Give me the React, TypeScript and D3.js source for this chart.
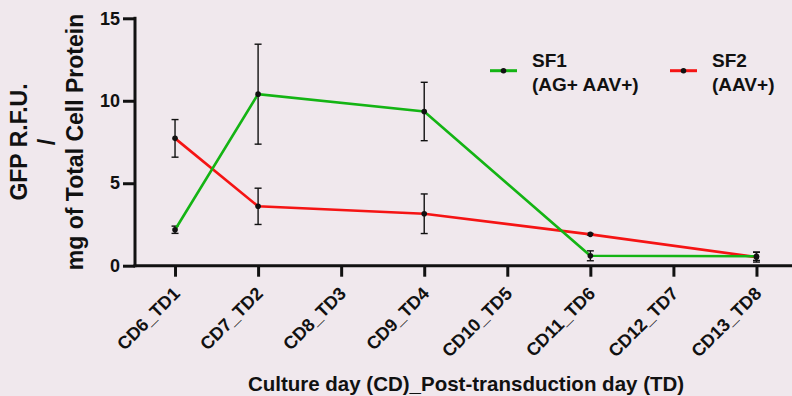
import React, { useEffect, useRef } from 'react';
import * as d3 from 'd3';

const categories = [
  'CD6_TD1', 'CD7_TD2', 'CD8_TD3', 'CD9_TD4',
  'CD10_TD5', 'CD11_TD6', 'CD12_TD7', 'CD13_TD8',
];
const sampledDays = ['CD6_TD1', 'CD7_TD2', 'CD9_TD4', 'CD11_TD6', 'CD13_TD8'];
const sf1Mean = [2.18, 10.4, 9.35, 0.6, 0.57];
const sf1Err = [0.22, 3.03, 1.77, 0.3, 0.25];
const sf2Mean = [7.72, 3.6, 3.15, 1.9, 0.52];
const sf2Err = [1.14, 1.1, 1.2, 0.05, 0.3];
const yTicks = [0, 5, 10, 15];

const WIDTH = 792;
const HEIGHT = 396;
const FONT = '"Liberation Sans", Arial, Helvetica, sans-serif';
const GREEN = '#14b414';
const RED = '#f51414';
const INK = '#111';

export default function App() {
  const ref = useRef<SVGSVGElement>(null);

  useEffect(() => {
    const svg = d3.select(ref.current);
    svg.selectAll('*').remove();

    svg.append('rect').attr('width', WIDTH).attr('height', HEIGHT).attr('fill', '#f0e8ed');

    const x = d3.scalePoint<string>().domain(categories).range([133.5, 798]).padding(0.5);
    const y = d3.scaleLinear().domain([0, 15]).range([265.7, 18.3]);

    // y axis
    const yAxis = svg.append('g').attr('transform', 'translate(135,0)');
    yAxis.call(d3.axisLeft(y).tickValues(yTicks).tickSize(12).tickPadding(3).tickSizeOuter(0));
    yAxis.select('.domain').remove();
    yAxis.append('line').attr('y1', y(15) - 1.5).attr('y2', y(0) + 1.5).attr('stroke', INK).attr('stroke-width', 3);
    yAxis.selectAll('.tick line').attr('stroke', INK).attr('stroke-width', 3);
    yAxis.selectAll('.tick text')
      .attr('fill', INK)
      .style('font-family', FONT)
      .style('font-size', '18px')
      .style('font-weight', 'bold');

    // x axis, labels turned 45 degrees
    const xAxis = svg.append('g').attr('transform', `translate(0,${y(0)})`);
    xAxis.call(d3.axisBottom(x).tickSize(11).tickSizeOuter(0));
    xAxis.select('.domain').remove();
    xAxis.append('line').attr('x1', 133.5).attr('x2', WIDTH).attr('stroke', INK).attr('stroke-width', 3);
    xAxis.selectAll('.tick line').attr('stroke', INK).attr('stroke-width', 3);
    xAxis.selectAll('.tick text')
      .attr('fill', INK)
      .attr('text-anchor', 'end')
      .attr('dy', null)
      .attr('y', null)
      .attr('transform', 'translate(5.5,29) rotate(-45)')
      .style('font-family', FONT)
      .style('font-size', '18px')
      .style('font-weight', 'bold');

    // axis titles
    svg.append('text')
      .attr('x', 466).attr('y', 391)
      .attr('text-anchor', 'middle')
      .style('font-family', FONT).style('font-size', '20.5px').style('font-weight', 'bold')
      .attr('fill', INK)
      .text('Culture day (CD)_Post-transduction day (TD)');

    const yTitle = [
      { text: 'GFP R.F.U.', x: 27 },
      { text: '/', x: 55 },
      { text: 'mg of Total Cell Protein', x: 83 },
    ];
    yTitle.forEach(t => {
      svg.append('text')
        .attr('transform', `translate(${t.x},142) rotate(-90)`)
        .attr('text-anchor', 'middle')
        .style('font-family', FONT).style('font-size', '23px').style('font-weight', 'bold')
        .attr('fill', INK)
        .text(t.text);
    });

    const series = [
      { mean: sf2Mean, err: sf2Err, color: RED },
      { mean: sf1Mean, err: sf1Err, color: GREEN },
    ];

    const line = d3.line<number>()
      .x((d, i) => x(sampledDays[i]) as number)
      .y(d => y(d));

    series.forEach(s => {
      const g = svg.append('g');
      // error bars
      s.mean.forEach((m, i) => {
        const cx = x(sampledDays[i]) as number;
        const top = y(m + s.err[i]);
        const bot = y(m - s.err[i]);
        g.append('line').attr('x1', cx).attr('x2', cx).attr('y1', top).attr('y2', bot)
          .attr('stroke', INK).attr('stroke-width', 1.4);
        [top, bot].forEach(yy => {
          g.append('line').attr('x1', cx - 3.5).attr('x2', cx + 3.5).attr('y1', yy).attr('y2', yy)
            .attr('stroke', INK).attr('stroke-width', 1.4);
        });
      });
      g.append('path').datum(s.mean).attr('d', line)
        .attr('fill', 'none').attr('stroke', s.color).attr('stroke-width', 2.6);
      g.selectAll('circle').data(s.mean).enter().append('circle')
        .attr('cx', (d, i) => x(sampledDays[i]) as number)
        .attr('cy', d => y(d))
        .attr('r', 2.8)
        .attr('fill', INK);
    });

    // legend
    const legend = [
      { name: 'SF1', sub: '(AG+ AAV+)', color: GREEN, x: 490 },
      { name: 'SF2', sub: '(AAV+)', color: RED, x: 670 },
    ];
    legend.forEach(l => {
      const g = svg.append('g').attr('transform', `translate(${l.x},0)`);
      g.append('line').attr('x1', 0).attr('x2', 27).attr('y1', 70.7).attr('y2', 70.7)
        .attr('stroke', l.color).attr('stroke-width', 3);
      g.append('circle').attr('cx', 13.5).attr('cy', 70.7).attr('r', 2.8).attr('fill', INK);
      [l.name, l.sub].forEach((t, i) => {
        g.append('text').attr('x', 42).attr('y', 66.7 + i * 24)
          .style('font-family', FONT).style('font-size', '19px').style('font-weight', 'bold')
          .attr('fill', INK)
          .text(t);
      });
    });
  }, []);

  return (
    <svg
      ref={ref}
      width={WIDTH}
      height={HEIGHT}
      style={{ position: 'fixed', left: 0, top: 0, display: 'block' }}
    />
  );
}
